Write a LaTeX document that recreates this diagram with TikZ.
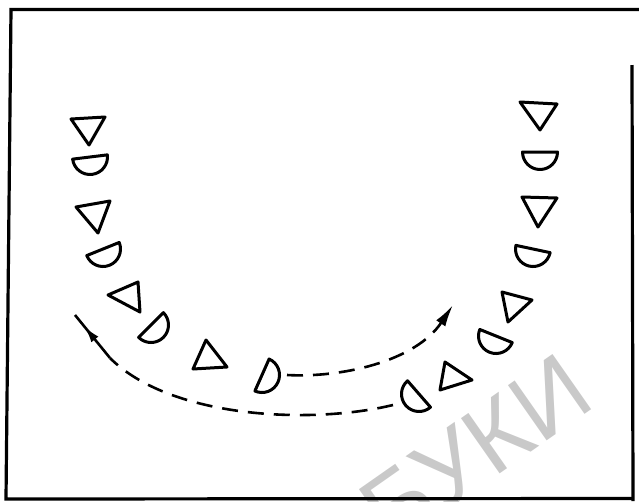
\documentclass[tikz,border=0pt]{standalone}
\usepackage{fontspec}
\newfontfamily\wmfont{Liberation Sans}
\usetikzlibrary{arrows.meta,decorations.markings}
\begin{document}
\begin{tikzpicture}[x=1pt,y=-1pt,
  shp/.style={line width=3pt,line join=round,line cap=round},
  conn/.style={line width=2.6pt,dash pattern=on 16pt off 10pt},
  frm/.style={line width=3.2pt},
  halfc/.pic={\draw[shp] (-17.5,0) -- (17.5,0) arc[start angle=0,end angle=180,radius=17.5] -- cycle;}
  ]
\useasboundingbox (0,0) rectangle (639,501);
\node[text=gray!42,font=\wmfont\fontsize{98}{98}\selectfont,rotate=35,inner sep=0pt] (wm) at (476,450) {БУКИ};
% frame (slightly skewed scan)
\coordinate (f1) at (639,9.5);
\coordinate (f2) at (11,9.5);
\coordinate (f3) at (6,499);
\coordinate (f4) at (633,498.5);
\coordinate (f5) at (633,501);
\coordinate (f6) at (632,65);
\draw[frm] (f1) -- (f2) -- (f3) -- (f4);
\draw[frm] (f5) -- (f6);
% left column
\draw[shp] (71,119) -- (105,117) -- (89,145) -- cycle;
\pic[rotate=7] at (90,157) {halfc};
\draw[shp] (76,207) -- (110,201) -- (98,233) -- cycle;
\pic[rotate=22] at (103,249) {halfc};
\draw[shp] (108,295) -- (138,282) -- (140,312) -- cycle;
\pic[rotate=45] at (151,325) {halfc};
\draw[shp] (193,369) -- (206,340) -- (227,367) -- cycle;
\pic[rotate=66] at (262,375) {halfc};
% right column
\draw[shp] (520,102) -- (557,104) -- (540,130) -- cycle;
\pic[rotate=0] at (540,152) {halfc};
\draw[shp] (522,197) -- (557,198) -- (538,227) -- cycle;
\pic[rotate=-12] at (533,249) {halfc};
\draw[shp] (502,292) -- (532,300) -- (508,322) -- cycle;
\pic[rotate=-22] at (496,336) {halfc};
\draw[shp] (445,362) -- (440,390) -- (472,380) -- cycle;
\pic[rotate=-49] at (419,394) {halfc};
% connectors
\coordinate (L0) at (393,405);
\coordinate (Lm) at (110,358);
\coordinate (L1) at (75,315);
\coordinate (U0) at (287,375);
\coordinate (U1) at (453,305);
\draw[conn] (L0) .. controls (310,425) and (170,418) .. (Lm);
\draw[line width=2.6pt,decoration={markings,mark=at position 0.74 with {\arrow{Latex[length=17pt,width=9pt]}}},postaction=decorate] (Lm) -- (L1);
\draw[conn,-{Latex[length=22pt,width=11pt]}] (U0) .. controls (340,378) and (415,362) .. (U1);
\end{tikzpicture}
\end{document}
